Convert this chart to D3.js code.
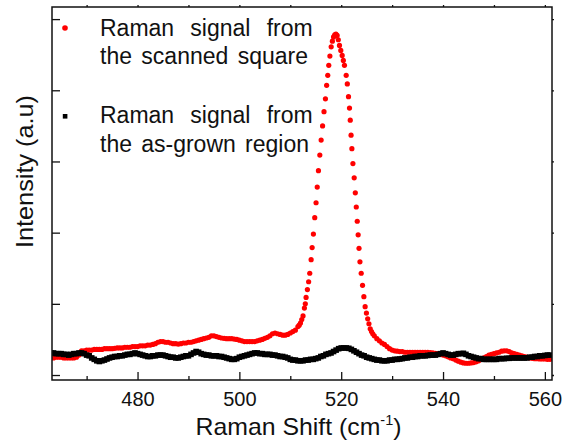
<!DOCTYPE html>
<html><head><meta charset="utf-8">
<script src="https://cdn.jsdelivr.net/npm/d3@7"></script>
<style>body{margin:0;background:#fff}svg{display:block}</style></head>
<body><svg id="c" width="572" height="445"></svg>
<script>
const xMajorTicks=[480,500,520,540,560];
const xMinorTicks=[470,490,510,530,550];
const yTicks=[0,1,2,3,4,5];
const legendRed=["Raman signal from","the scanned square"];
const legendBlack=["Raman signal from","the as-grown region"];
const xTitle="Raman Shift (cm";
const yTitle="Intensity (a.u)";

const redPoints=[[463,.24],[463.5,.24],[464,.25],[464.5,.25],[465,.25],[465.5,.24],[466,.24],[466.5,.24],[467,.24],[467.5,.24],[468,.25],[468.5,.28],[469,.34],[469.5,.34],[470,.35],[470.5,.35],[471,.35],[471.5,.36],[472,.36],[472.5,.36],[473,.36],[473.5,.37],[474,.37],[474.5,.37],[475,.37],[475.5,.375],[476,.38],[476.5,.38],[477,.38],[477.5,.39],[478,.39],[478.5,.39],[479,.40],[479.5,.40],[480,.40],[480.5,.41],[481,.41],[481.5,.41],[482,.42],[482.5,.42],[483,.43],[483.5,.44],[484,.46],[484.5,.47],[485,.47],[485.5,.46],[486,.46],[486.5,.45],[487,.44],[487.5,.44],[488,.435],[488.5,.44],[489,.45],[489.5,.45],[490,.46],[490.5,.46],[491,.47],[491.5,.48],[492,.49],[492.5,.50],[493,.51],[493.5,.52],[494,.53],[494.5,.55],[495,.55],[495.5,.54],[496,.53],[496.5,.52],[497,.515],[497.5,.51],[498,.51],[498.5,.51],[499,.505],[499.5,.50],[500,.49],[500.5,.48],[501,.47],[501.5,.47],[502,.47],[502.5,.47],[503,.47],[503.5,.48],[504,.49],[504.5,.50],[505,.515],[505.5,.53],[506,.55],[506.5,.58],[507,.59],[507.5,.58],[508,.57],[508.5,.56],[509,.56],[509.5,.57],[510,.59],[510.5,.61],[511,.63],[511.5,.68],[511.75,.70],[512,.73],[512.25,.78],[512.5,.83],
[512.77,.94],[512.95,1.00],[513.1,1.09],[513.36,1.20],[513.6,1.31],[513.82,1.43],[514.09,1.62],[514.29,1.79],[514.54,1.98],[514.8,2.21],[515.06,2.42],[515.29,2.64],[515.53,2.87],[515.8,3.09],[516.06,3.30],[516.34,3.50],[516.62,3.70],[516.9,3.88],[517.14,4.07],[517.36,4.21],[517.56,4.35],[517.78,4.48],[518.03,4.61],[518.27,4.69],[518.5,4.75],[518.73,4.78],[518.96,4.79],[519.2,4.77],[519.43,4.71],[519.66,4.63],[519.92,4.56],[520.19,4.49],[520.42,4.42],[520.64,4.35],[520.98,4.21],[521.2,4.09],[521.43,3.91],[521.63,3.75],[521.78,3.58],[521.94,3.37],[522.1,3.18],[522.3,2.97],[522.55,2.77],[522.77,2.56],[522.96,2.36],[523.15,2.16],[523.33,1.97],[523.5,1.78],[523.68,1.59],[523.93,1.43],[524.19,1.26],[524.45,1.10],[524.7,.96],[524.95,.87],[525.2,.79],[525.45,.72],[525.7,.65],[525.95,.61],[526.2,.58],
[526.5,.55],[527,.51],[527.5,.48],[528,.45],[528.5,.43],[529,.40],[529.5,.37],[530,.35],[530.5,.34],[531,.335],[531.5,.33],[532,.33],[532.5,.32],[533,.32],[533.5,.32],[534,.32],[534.5,.32],[535,.32],[535.5,.32],[536,.32],[536.5,.32],[537,.32],[537.5,.315],[538,.31],[538.5,.305],[539,.30],[539.5,.29],[540,.28],[540.5,.27],[541,.255],[541.5,.24],[542,.23],[542.5,.21],[543,.195],[543.5,.18],[544,.17],[544.5,.165],[545,.165],[545.5,.17],[546,.175],[546.5,.185],[547,.20],[547.5,.22],[548,.24],[548.5,.26],[549,.28],[549.5,.29],[550,.30],[550.5,.31],[551,.32],[551.5,.335],[552,.34],[552.5,.34],[553,.33],[553.5,.31],[554,.30],[554.5,.29],[555,.28],[555.5,.27],[556,.26],[556.5,.25],[557,.24],[557.5,.235],[558,.23],[558.5,.23],[559,.225],[559.5,.225],[560,.225],[560.5,.22],[561,.22]];

const blackPoints=[[463,.31],[463.5,.31],[464,.30],[464.5,.30],[465,.30],[465.5,.29],[466,.29],[466.5,.28],[467,.29],[467.5,.30],[468,.30],[468.5,.31],[469,.31],[469.5,.30],[470,.28],[470.5,.27],[471,.24],[471.5,.22],[472,.20],[472.5,.19],[473,.20],[473.5,.21],[474,.225],[474.5,.24],[475,.25],[475.5,.26],[476,.26],[476.5,.27],[477,.27],[477.5,.28],[478,.29],[478.5,.29],[479,.30],[479.5,.31],[480,.30],[480.5,.29],[481,.28],[481.5,.27],[482,.26],[482.5,.26],[483,.27],[483.5,.27],[484,.28],[484.5,.28],[485,.28],[485.5,.27],[486,.26],[486.5,.25],[487,.25],[487.5,.24],[488,.24],[488.5,.25],[489,.26],[489.5,.27],[490,.27],[490.5,.29],[491,.31],[491.5,.33],[492,.32],[492.5,.30],[493,.29],[493.5,.28],[494,.28],[494.5,.27],[495,.27],[495.5,.27],[496,.26],[496.5,.26],[497,.25],[497.5,.24],[498,.23],[498.5,.22],[499,.22],[499.5,.23],[500,.25],[500.5,.26],[501,.27],[501.5,.28],[502,.29],[502.5,.30],[503,.31],[503.5,.31],[504,.30],[504.5,.30],[505,.29],[505.5,.29],[506,.29],[506.5,.28],[507,.28],[507.5,.27],[508,.26],[508.5,.26],[509,.25],[509.5,.24],[510,.22],[510.5,.21],[511,.21],[511.5,.20],[512,.20],[512.5,.20],[513,.21],[513.5,.21],[514,.22],[514.5,.22],[515,.23],[515.5,.24],[516,.26],[516.5,.27],[517,.29],[517.5,.30],[518,.31],[518.5,.33],[519,.35],[519.5,.37],[520,.38],[520.5,.38],[521,.38],[521.5,.375],[522,.36],[522.5,.34],[523,.32],[523.5,.30],[524,.28],[524.5,.27],[525,.25],[525.5,.24],[526,.23],[526.5,.22],[527,.21],[527.5,.21],[528,.20],[528.5,.20],[529,.20],[529.5,.21],[530,.21],[530.5,.22],[531,.22],[531.5,.225],[532,.23],[532.5,.24],[533,.24],[533.5,.25],[534,.25],[534.5,.26],[535,.26],[535.5,.27],[536,.27],[536.5,.27],[537,.275],[537.5,.28],[538,.28],[538.5,.28],[539,.29],[539.5,.30],[540,.31],[540.5,.30],[541,.29],[541.5,.28],[542,.28],[542.5,.29],[543,.30],[543.5,.30],[544,.305],[544.5,.29],[545,.27],[545.5,.26],[546,.25],[546.5,.24],[547,.23],[547.5,.23],[548,.22],[548.5,.22],[549,.22],[549.5,.22],[550,.22],[550.5,.22],[551,.23],[551.5,.23],[552,.23],[552.5,.235],[553,.235],[553.5,.24],[554,.24],[554.5,.24],[555,.24],[555.5,.24],[556,.24],[556.5,.24],[557,.25],[557.5,.25],[558,.26],[558.5,.26],[559,.27],[559.5,.27],[560,.275],[560.5,.28],[561,.28]];

const FONT='"Liberation Sans", Arial, Helvetica, sans-serif';
const svg=d3.select("#c");
const m={l:52,r:552,t:7,b:380};
const x=d3.scaleLinear().domain([463.2,561.4]).range([m.l,m.r]);
const y=d3.scaleLinear().domain([-0.07,5.17]).range([m.b,m.t]);

svg.append("defs").append("clipPath").attr("id","clip")
  .append("rect").attr("x",m.l).attr("y",m.t).attr("width",m.r-m.l).attr("height",m.b-m.t);

const plot=svg.append("g").attr("clip-path","url(#clip)");
plot.append("g").selectAll("circle").data(redPoints).join("circle")
  .attr("cx",d=>x(d[0])).attr("cy",d=>y(d[1])).attr("r",2.6).attr("fill","#ff0000");
plot.append("g").selectAll("rect").data(blackPoints).join("rect")
  .attr("x",d=>x(d[0])-2.8).attr("y",d=>y(d[1])-2.8).attr("width",5.6).attr("height",5.6).attr("fill","#000");

function styleAxis(g){g.select(".domain").remove();g.selectAll("line").attr("stroke","#111").attr("stroke-width",1.3);}

svg.append("g").attr("transform",`translate(0,${m.b})`)
  .call(d3.axisBottom(x).tickValues(xMajorTicks).tickSize(-8).tickPadding(11.5).tickFormat(d3.format("d")))
  .call(styleAxis)
  .call(g=>g.selectAll("text").attr("font-family",FONT).attr("font-size",20).attr("fill","#111"));
svg.append("g").attr("transform",`translate(0,${m.b})`)
  .call(d3.axisBottom(x).tickValues(xMinorTicks).tickSize(-4).tickFormat(""))
  .call(styleAxis);
svg.append("g").attr("transform",`translate(0,${m.t})`)
  .call(d3.axisTop(x).tickValues(xMajorTicks.concat(xMinorTicks)).tickSize(2).tickFormat(""))
  .call(styleAxis);
svg.append("g").attr("transform",`translate(${m.l},0)`)
  .call(d3.axisLeft(y).tickValues(yTicks).tickSize(-8).tickFormat(""))
  .call(styleAxis);
svg.append("g").attr("transform",`translate(${m.r},0)`)
  .call(d3.axisRight(y).tickValues(yTicks).tickSize(2).tickFormat(""))
  .call(styleAxis);

svg.append("rect").attr("x",m.l).attr("y",m.t).attr("width",m.r-m.l).attr("height",m.b-m.t)
  .attr("fill","none").attr("stroke","#111").attr("stroke-width",1.5);

// axis titles
const xt=svg.append("text").attr("x",298.5).attr("y",435).attr("text-anchor","middle")
  .attr("font-family",FONT).attr("font-size",24).attr("fill","#111")
  .attr("textLength",206).attr("lengthAdjust","spacingAndGlyphs");
xt.append("tspan").text(xTitle);
xt.append("tspan").attr("font-size",14).attr("dy",-10).text("-1");
xt.append("tspan").attr("dy",10).text(")");

svg.append("text").attr("transform","translate(33,171.5) rotate(-90)").attr("text-anchor","middle")
  .attr("font-family",FONT).attr("font-size",24).attr("fill","#111")
  .attr("textLength",153).attr("lengthAdjust","spacingAndGlyphs").text(yTitle);

// legend (justified lines)
const leg=svg.append("g");
leg.append("circle").attr("cx",65).attr("cy",28).attr("r",2.8).attr("fill","#ff0000");
leg.append("rect").attr("x",62.8).attr("y",114).attr("width",4.6).attr("height",4.6).attr("fill","#000");
const legLines=[[legendRed[0],36,312.7],[legendRed[1],64,308],[legendBlack[0],123.3,312.7],[legendBlack[1],151.7,309]];
legLines.forEach(([t,by,xEnd])=>{
  const words=t.split(" ");
  const g=leg.append("g");
  const nodes=words.map(w=>g.append("text").attr("y",by).attr("font-family",FONT).attr("font-size",23).attr("fill","#111").text(w));
  const widths=nodes.map(n=>n.node().getComputedTextLength());
  const total=d3.sum(widths);
  const gap=(xEnd-100-total)/(words.length-1);
  let cx=100;
  nodes.forEach((n,i)=>{n.attr("x",cx);cx+=widths[i]+gap;});
});
</script></body></html>
